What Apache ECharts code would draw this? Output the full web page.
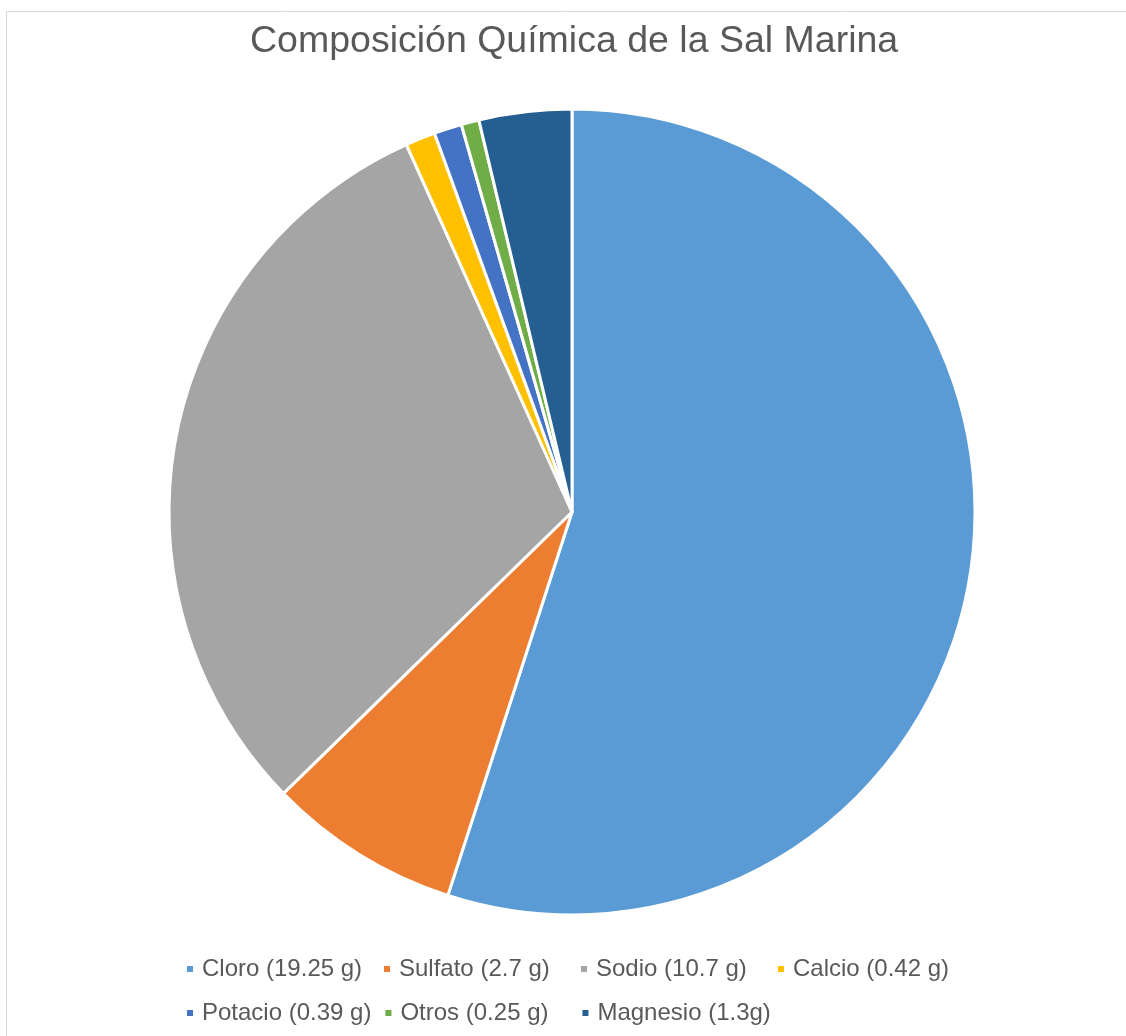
<!DOCTYPE html>
<html>
<head>
<meta charset="utf-8">
<script src="https://cdn.jsdelivr.net/npm/echarts@6/dist/echarts.min.js"></script>
<style>
  html, body { margin: 0; padding: 0; background: #fff; }
  #chart { width: 1126px; height: 1036px; }
</style>
</head>
<body>
<div id="chart"></div>
<script>
// datos de la composición
const elementos = ['Cloro (19.25 g)', 'Sulfato (2.7 g)', 'Sodio (10.7 g)', 'Calcio (0.42 g)',
  'Potacio (0.39 g)', 'Otros (0.25 g)', 'Magnesio (1.3g)']
const gramos = [19.25, 2.7, 10.7, 0.42, 0.39, 0.25, 1.3]
const colores = ['#5B9BD5', '#ED7D31', '#A5A5A5', '#FFC000', '#4472C4', '#70AD47', '#255E91']

const chart = echarts.init(document.getElementById('chart'))

const options = {
  animation: false,
  color: colores,
  title: {
    text: 'Composición Química de la Sal Marina',
    left: 250,
    top: 23,
    padding: 0,
    textStyle: {
      fontFamily: 'Liberation Sans',
      fontWeight: 'normal',
      fontSize: 37.5,
      color: '#595959'
    }
  },
  // marco del gráfico
  graphic: [
    {
      type: 'rect',
      shape: { x: 6.5, y: 11.5, width: 1300, height: 1200 },
      style: { fill: 'none', stroke: '#d9d9d9', lineWidth: 1 },
      silent: true
    }
  ],
  legend: {
    left: 185,
    top: 953,
    width: 790,
    padding: 0,
    itemWidth: 8,
    itemHeight: 8,
    itemGap: 12,
    icon: 'rect',
    textStyle: {
      fontFamily: 'Liberation Sans',
      fontSize: 24,
      color: '#595959',
      width: 168,
      lineHeight: 32,
      padding: [0, 0, 0, 3]
    },
    data: elementos
  },
  series: [
    {
      type: 'pie',
      center: [572, 512],
      radius: 403,
      startAngle: 90,
      clockwise: true,
      label: { show: false },
      labelLine: { show: false },
      itemStyle: { borderColor: '#fff', borderWidth: 3 },
      data: elementos.map((n, i) => ({ name: n, value: gramos[i] }))
    }
  ]
}

chart.setOption(options)
</script>
</body>
</html>
